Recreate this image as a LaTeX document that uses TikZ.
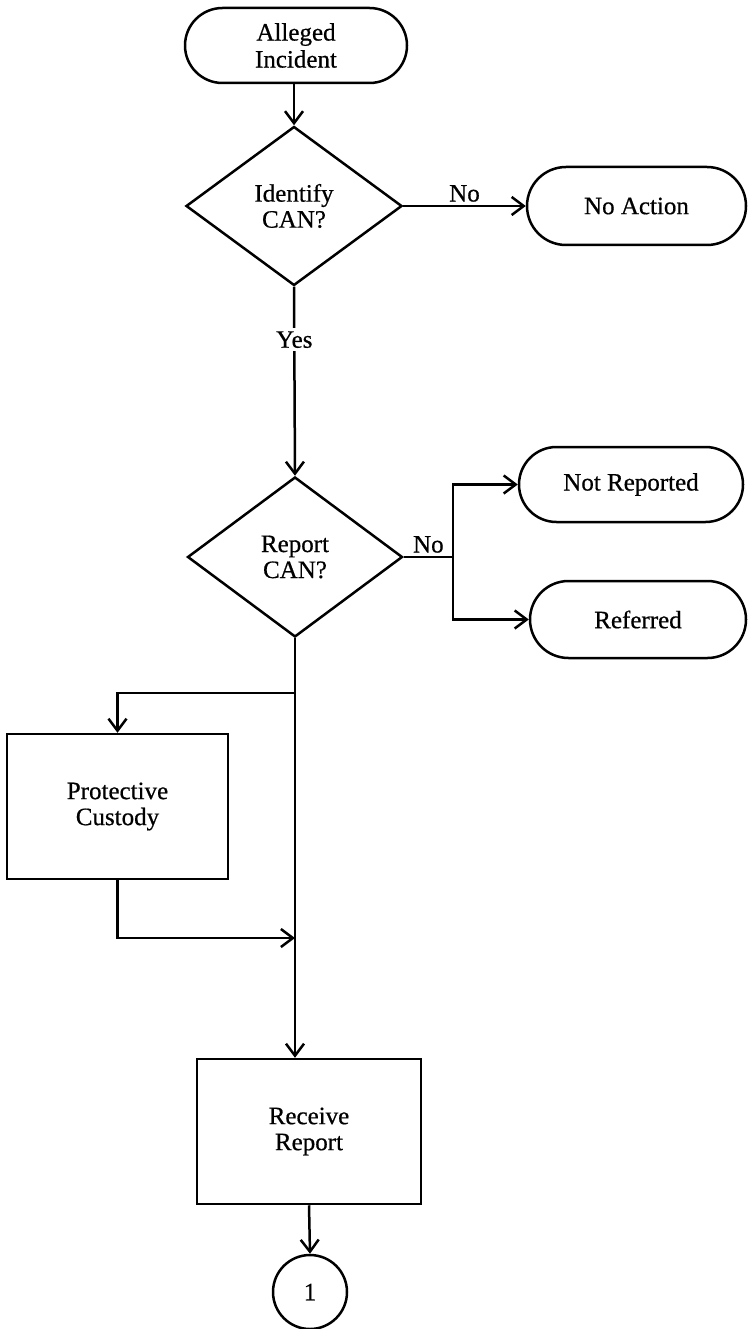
\documentclass[tikz,border=0pt]{standalone}
\usepackage{fontspec}
\setmainfont{Liberation Serif}[FakeBold=0.6]
\usetikzlibrary{shapes.geometric,arrows.meta}
\begin{document}
\begin{tikzpicture}[x=1pt,y=-1pt,
  every node/.style={font=\fontsize{25}{26}\selectfont, align=center},
  lw/.style={line width=2.5pt},
  term/.style={draw, lw, inner sep=0pt},
  proc/.style={draw, lw, inner sep=0pt, rectangle},
  dec/.style={draw, lw, diamond, inner sep=0pt},
  arr/.style={lw, -{Straight Barb[length=12pt,width=18pt,line width=2.5pt]}},
  lbl/.style={inner sep=3pt}
]
\useasboundingbox (0,0) rectangle (747,1329);

\node[term, minimum width=222pt, minimum height=75pt, rounded corners=37.5pt, font=\fontsize{25}{27}\selectfont] (ai) at (296,45.5) {Alleged\\Incident};
\node[dec, minimum width=216pt, minimum height=159pt] (d1) at (294,206) {Identify\\CAN?};
\node[term, minimum width=219pt, minimum height=78pt, rounded corners=39pt] (na) at (636.5,206) {No Action};
\node[dec, minimum width=215pt, minimum height=160pt] (d2) at (295,557) {Report\\CAN?};
\node[term, minimum width=224pt, minimum height=75pt, rounded corners=37.5pt] (nr) at (631,484.5) {Not Reported};
\node[term, minimum width=216pt, minimum height=77pt, rounded corners=38.5pt] (rf) at (638,619.5) {Referred};
\node[proc, minimum width=221pt, minimum height=145pt] (pc) at (117.5,806.5) {Protective\\Custody};
\node[proc, minimum width=224pt, minimum height=145pt] (rr) at (309,1131.5) {Receive\\Report};
\node[draw, lw, circle, minimum size=74pt, inner sep=0pt] (c1) at (310,1292) {1};

\coordinate (nb) at (453,557);
\coordinate (y693) at (0,693);
\coordinate (y938) at (0,938);
\coordinate (b1) at (d2.south |- y693);
\coordinate (b2) at (d2.south |- y938);

\draw[arr] (ai.south -| d1.north) -- (d1.north);
\draw[arr] (d1.east) -- (na.west) node[midway, above, lbl] {No};
\draw[arr] (d1.south) -- (d2.north) node[pos=0.28, fill=white, lbl] {Yes};
\draw[lw] (d2.east) -- (nb) node[midway, above, lbl] {No};
\draw[arr] (nb) |- (nr.west);
\draw[arr] (nb) |- (rf.west);
\draw[arr] (d2.south) -- (d2.south |- rr.north);
\draw[arr] (b1) -| (pc.north);
\draw[arr] (pc.south) |- (b2);
\draw[arr] (rr.south) -- (c1.north);
\end{tikzpicture}
\end{document}
